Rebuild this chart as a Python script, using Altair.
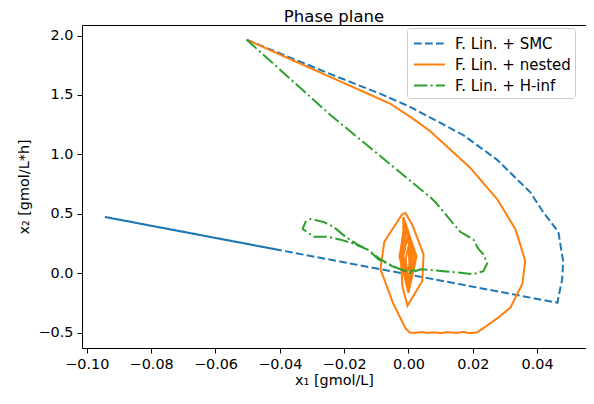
import altair as alt
import pandas as pd

series_names = ["F. Lin. + SMC", "F. Lin. + nested", "F. Lin. + H-inf"]
series_colors = ["#1f77b4", "#ff7f0e", "#2ca02c"]
series_dashes = [[7.7, 3.3], [1, 0], [13.3, 3.3, 2.1, 3.3]]

smc_x = [-0.0503, -0.0428, -0.0242, -0.0087, -0.0003, 0.0068, 0.0171, 0.0276,
         0.0379, 0.0419, 0.0466, 0.0481, 0.0478, 0.0463, 0.0068, -0.0149,
         -0.0944, -0.0400, -0.0942, -0.0405, -0.0940, -0.0398, -0.0943]
smc_y = [1.965, 1.882, 1.675, 1.509, 1.410, 1.310, 1.161, 0.954,
         0.680, 0.514, 0.348, 0.100, -0.050, -0.249, -0.046, 0.065,
         0.473, 0.194, 0.472, 0.197, 0.471, 0.193, 0.473]

nested_x = [-0.0503, -0.0056, 0.0022, 0.0068, 0.0192, 0.0276, 0.0332, 0.0345,
            0.0363, 0.0354, 0.0317, 0.0276, 0.0214, 0.0190, 0.0170, 0.0150,
            0.0120, 0.0100, 0.0080, 0.0060, 0.0040, 0.0020, 0.0005, -0.0009,
            -0.0047, -0.0087, -0.0075, -0.0019, -0.0009, 0.0012, 0.0047, 0.0043,
            -0.0003, -0.0019, -0.0025, -0.0016,
            -0.0016, 0.0025, 0.0000, -0.0028, -0.0009, 0.0019, 0.0000, -0.0022,
            -0.0006, 0.0012, 0.0000, -0.0016, -0.0003, 0.0009, 0.0000, -0.0009,
            0.0000, 0.0003, 0.0000]
nested_y = [1.965, 1.426, 1.285, 1.194, 0.887, 0.622, 0.373, 0.265,
            0.100, -0.091, -0.290, -0.381, -0.498, -0.505, -0.495, -0.503,
            -0.497, -0.505, -0.498, -0.503, -0.496, -0.503, -0.500, -0.466,
            -0.258, 0.033, 0.265, 0.498, 0.506, 0.406, 0.158, -0.066,
            -0.274, -0.108, 0.182, 0.348,
            0.473, 0.141, -0.166, 0.141, 0.415, 0.141, -0.133, 0.141,
            0.365, 0.141, -0.100, 0.141, 0.307, 0.116, -0.066, 0.116,
            0.224, 0.083, 0.017]

hinf_x = [-0.0503, -0.0242, 0.0068, 0.0084, 0.0161, 0.0202, 0.0217, 0.0233,
          0.0245, 0.0233, 0.0202, 0.0109, 0.0037, 0.0006, -0.0047, -0.0087,
          -0.0127, -0.0171, -0.0211, -0.0251, -0.0295, -0.0329, -0.0320,
          -0.0304, -0.0264, -0.0233, -0.0196, -0.0158, -0.0127, -0.0093,
          -0.0050, -0.0025, 0.0000, 0.0022]
hinf_y = [1.965, 1.330, 0.638, 0.597, 0.348, 0.282, 0.207, 0.158,
          0.083, 0.017, -0.008, 0.017, 0.033, 0.000, 0.058, 0.116,
          0.199, 0.249, 0.282, 0.307, 0.307, 0.373, 0.431,
          0.456, 0.431, 0.390, 0.307, 0.240, 0.199, 0.116,
          0.058, 0.033, 0.017, 0.025]

x_ticks = [-0.10, -0.08, -0.06, -0.04, -0.02, 0.00, 0.02, 0.04]
y_ticks = [-0.5, 0.0, 0.5, 1.0, 1.5, 2.0]
x_domain = [-0.1015, 0.0552]
y_domain = [-0.63, 2.089]

rows = []
for name, xs, ys in [(series_names[0], smc_x, smc_y),
                     (series_names[1], nested_x, nested_y),
                     (series_names[2], hinf_x, hinf_y)]:
    for i, (a, b) in enumerate(zip(xs, ys)):
        rows.append({"series": name, "x1": a, "x2": b, "order": i})
df = pd.DataFrame(rows)

legend = alt.Legend(
    title=None, orient="none", legendX=325, legendY=3,
    symbolType="M-1.5,0H1.5", symbolSize=428, symbolStrokeWidth=2,
    symbolOffset=7,
    labelFontSize=15, labelFont="DejaVu Sans", labelColor="black",
    labelOffset=14, padding=4, rowPadding=1,
    fillColor="rgba(255,255,255,0.8)", strokeColor="#cccccc", cornerRadius=3,
)

chart = alt.Chart(df).mark_line(strokeWidth=2, strokeCap="butt").encode(
    x=alt.X("x1:Q",
            scale=alt.Scale(domain=x_domain, nice=False, zero=False),
            axis=alt.Axis(values=x_ticks, format=".2f", title="x₁ [gmol/L]")),
    y=alt.Y("x2:Q",
            scale=alt.Scale(domain=y_domain, nice=False, zero=False),
            axis=alt.Axis(values=y_ticks, format=".1f", title="x₂ [gmol/L*h]")),
    color=alt.Color("series:N",
                    scale=alt.Scale(domain=series_names, range=series_colors),
                    legend=legend),
    strokeDash=alt.StrokeDash("series:N",
                              scale=alt.Scale(domain=series_names, range=series_dashes),
                              legend=legend),
    order="order:Q",
).properties(
    width=504, height=323,
    padding={"left": 74, "top": 17, "right": 0, "bottom": 48},
    autosize=alt.AutoSizeParams(type="none"),
    title=alt.Title("Phase plane", fontSize=16.5, fontWeight="normal",
                    font="DejaVu Sans", color="black", offset=4,
                    baseline="alphabetic", dy=17),
).configure_view(
    stroke="black", strokeWidth=1
).configure_axis(
    grid=False, domain=False, ticks=True, tickColor="black", tickSize=5,
    tickWidth=1, labelFontSize=14.4, labelFont="DejaVu Sans", labelColor="black",
    labelPadding=4, titleFontSize=14.4, titleFont="DejaVu Sans",
    titleFontWeight="normal", titleColor="black"
).configure_axisX(
    titlePadding=3
).configure_axisY(
    titlePadding=7
)

chart.save("out.html", embed_options={"renderer": "svg", "actions": False})
